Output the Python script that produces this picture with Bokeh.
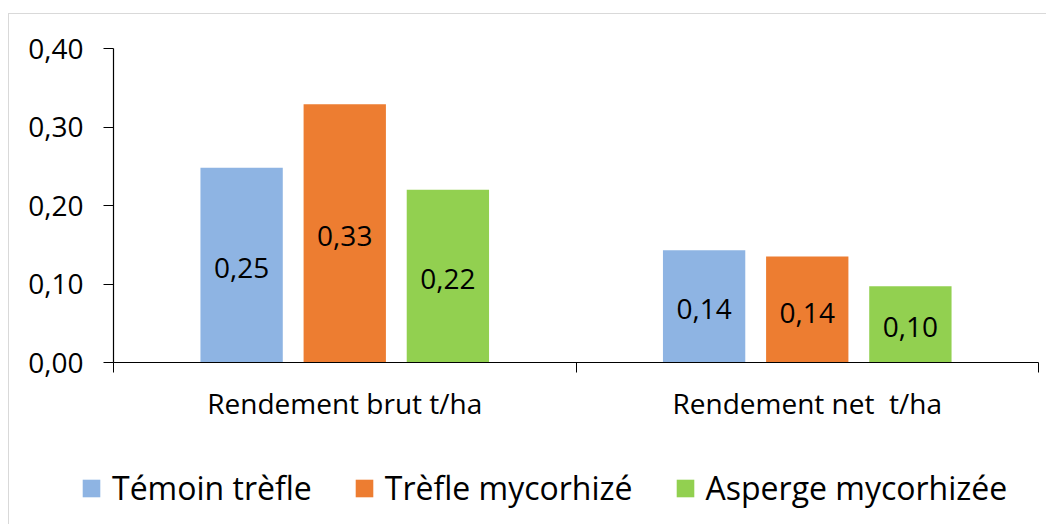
from bokeh.plotting import figure
from bokeh.layouts import column, row
from bokeh.models import Range1d, FixedTicker, Legend, LegendItem, ColumnDataSource
from bokeh.embed import file_html
from bokeh.resources import INLINE
from bokeh.core.properties import value

categories = ["Rendement brut t/ha", "Rendement net  t/ha"]
series_names = ["Témoin trèfle", "Trèfle mycorhizé", "Asperge mycorhizée"]
temoin_trefle = [0.248, 0.143]
trefle_mycorhize = [0.329, 0.135]
asperge_mycorhizee = [0.220, 0.097]
y_ticks = [0.0, 0.1, 0.2, 0.3, 0.4]
y_tick_labels = ["0,00", "0,10", "0,20", "0,30", "0,40"]

colors = ["#8EB4E3", "#ED7D31", "#92D050"]
offsets = [-0.223, 0.0, 0.223]
bar_width = 0.178
FONT = "Open Sans"

p = figure(width=1037, height=430, output_backend="svg", toolbar_location=None,
           x_range=Range1d(0, len(categories)), y_range=Range1d(y_ticks[0], y_ticks[-1]),
           min_border_left=104, min_border_right=8, min_border_top=34, min_border_bottom=82)
p.outline_line_color = None
p.xgrid.grid_line_color = None
p.ygrid.grid_line_color = None
p.background_fill_color = "white"
p.border_fill_color = "white"

# legend strip: same series renderers (hidden) used only for the legend swatches
p2 = figure(width=1037, height=80, output_backend="svg", toolbar_location=None,
            x_range=Range1d(0, len(categories)), y_range=Range1d(y_ticks[0], y_ticks[-1]),
            x_axis_type=None, y_axis_type=None,
            min_border_left=0, min_border_right=0, min_border_top=0, min_border_bottom=0)
p2.outline_line_color = None
p2.grid.visible = False
p2.border_fill_color = "white"

items = []
for name, vals, col, off in zip(series_names, [temoin_trefle, trefle_mycorhize, asperge_mycorhizee], colors, offsets):
    src = ColumnDataSource(dict(
        x=[i + 0.5 + off for i in range(len(categories))],
        top=vals,
        mid=[v / 2 for v in vals],
        lab=[f"{v:.2f}".replace(".", ",") for v in vals],
    ))
    p.vbar(x="x", top="top", bottom=0, width=bar_width, source=src, fill_color=col, line_color=None)
    p.text(x="x", y="mid", text="lab", source=src, text_font=value(FONT), text_font_size="28px",
           text_align="center", text_baseline="middle", text_color="black", y_offset=3)
    sw = p2.vbar(x="x", top="top", bottom=0, width=bar_width, source=src, fill_color=col,
                 line_color=None, visible=False)
    items.append(LegendItem(label=name, renderers=[sw]))

# x axis
p.xaxis.ticker = FixedTicker(ticks=[i + 0.5 for i in range(len(categories))],
                             minor_ticks=list(range(len(categories) + 1)))
p.xaxis.major_label_overrides = {i + 0.5: c.replace("  ", " \u00a0") for i, c in enumerate(categories)}
p.xaxis.major_tick_out = 0
p.xaxis.major_tick_in = 0
p.xaxis.minor_tick_out = 10
p.xaxis.minor_tick_in = 0
p.xaxis.minor_tick_line_color = "black"
p.xaxis.major_label_standoff = 11

# y axis
p.yaxis.ticker = FixedTicker(ticks=y_ticks)
p.yaxis.major_label_overrides = {t: l for t, l in zip(y_ticks, y_tick_labels)}
p.yaxis.major_tick_out = 10
p.yaxis.major_tick_in = 0
p.yaxis.minor_tick_line_color = None
p.yaxis.major_label_standoff = 20

for ax in [p.xaxis[0], p.yaxis[0]]:
    ax.axis_line_color = "black"
    ax.axis_line_width = 1.2
    ax.major_label_text_font = FONT
    ax.major_label_text_font_size = "28px"
    ax.major_label_text_color = "black"
p.xaxis.major_tick_line_color = None
p.yaxis.major_tick_line_color = "black"

legend = Legend(items=items, orientation="horizontal", location=(71, 15),
                glyph_width=22, glyph_height=22, label_standoff=10, spacing=41,
                padding=0, margin=0, border_line_color=None, background_fill_alpha=0,
                label_text_font=FONT, label_text_font_size="32px", label_text_color="black")
p2.add_layout(legend)

layout = column(p, row(p2, spacing=0), spacing=0)
layout.styles = {"margin-left": "8px", "margin-top": "13px",
                 "border-top": "1px solid #d9d9d9", "border-left": "1px solid #d9d9d9"}

open("out.html", "w").write(file_html(layout, INLINE))
